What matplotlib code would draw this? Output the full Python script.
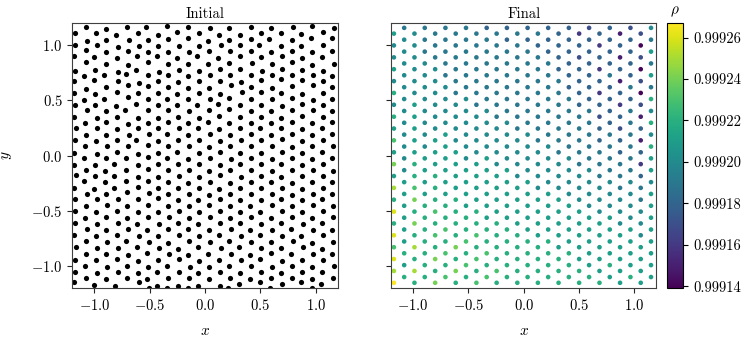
import numpy as np
import matplotlib.pyplot as plt
from matplotlib.ticker import FormatStrFormatter

plt.rcParams['font.family'] = 'serif'
plt.rcParams['font.serif'] = ['cmr10']
plt.rcParams['mathtext.fontset'] = 'cm'
plt.rcParams['axes.formatter.use_mathtext'] = True
plt.rcParams['font.size'] = 10.5

# initial particle positions
init_xy = [
    # top-left block
    (-1.078, 1.169), (-0.895, 1.145), (-0.705, 1.163), (-0.536, 1.163),
    (-1.172, 1.114), (-0.982, 1.114), (-0.804, 1.096), (-0.602, 1.111), (-0.422, 1.093),
    (-1.066, 1.036), (-0.892, 1.048), (-0.687, 1.048), (-0.512, 1.051),
    (-1.172, 1.000), (-0.976, 1.006), (-0.789, 0.982), (-0.596, 0.997), (-0.422, 0.997),
    (-1.075, 0.958), (-0.895, 0.943), (-0.699, 0.949), (-0.512, 0.937),
    (-1.181, 0.901), (-1.000, 0.892), (-0.795, 0.883), (-0.614, 0.898), (-0.434, 0.901),
    (-1.078, 0.846), (-0.892, 0.831), (-0.696, 0.825), (-0.518, 0.846),
    (-1.172, 0.771), (-0.994, 0.777), (-0.789, 0.762), (-0.623, 0.777), (-0.419, 0.762),
    (-1.096, 0.720), (-0.910, 0.726), (-0.711, 0.738), (-0.512, 0.732),
    (-1.181, 0.672), (-1.000, 0.681), (-0.789, 0.678), (-0.599, 0.660), (-0.422, 0.675),
    (-1.075, 0.608), (-0.892, 0.620), (-0.696, 0.636), (-0.518, 0.630),
    (-1.181, 0.569), (-0.991, 0.560), (-0.795, 0.575), (-0.608, 0.569), (-0.422, 0.569),
    (-1.090, 0.503), (-0.910, 0.509), (-0.699, 0.527), (-0.512, 0.515),
    (-1.175, 0.455), (-0.994, 0.461), (-0.804, 0.446), (-0.620, 0.464), (-0.422, 0.461),
    (-1.069, 0.410), (-0.895, 0.401), (-0.723, 0.410), (-0.518, 0.410),
    # top-middle block
    (-0.340, 1.172), (-0.157, 1.166), (0.048, 1.157), (0.217, 1.160),
    (-0.250, 1.117), (-0.051, 1.108), (0.130, 1.093), (0.316, 1.093),
    (-0.331, 1.057), (-0.151, 1.063), (0.030, 1.042), (0.214, 1.051),
    (-0.235, 0.994), (-0.054, 0.991), (0.142, 1.006), (0.316, 1.003),
    (-0.331, 0.943), (-0.148, 0.943), (0.039, 0.949), (0.226, 0.952),
    (-0.250, 0.883), (-0.069, 0.898), (0.120, 0.886), (0.316, 0.901),
    (-0.331, 0.831), (-0.151, 0.831), (0.024, 0.834), (0.220, 0.840),
    (-0.235, 0.777), (-0.051, 0.771), (0.136, 0.786), (0.316, 0.786),
    (-0.331, 0.726), (-0.151, 0.720), (0.045, 0.735), (0.226, 0.726),
    (-0.241, 0.666), (-0.054, 0.675), (0.136, 0.675), (0.322, 0.666),
    (-0.337, 0.620), (-0.151, 0.611), (0.036, 0.614), (0.232, 0.636),
    (-0.256, 0.560), (-0.054, 0.569), (0.136, 0.560), (0.331, 0.575),
    (-0.346, 0.515), (-0.151, 0.509), (0.045, 0.515), (0.220, 0.521),
    (-0.256, 0.461), (-0.069, 0.455), (0.120, 0.464), (0.316, 0.461),
    (-0.337, 0.410), (-0.142, 0.401), (0.039, 0.410), (0.220, 0.419),
    # top-right block
    (0.413, 1.163), (0.593, 1.157), (0.795, 1.166), (0.970, 1.172), (1.166, 1.160),
    (0.503, 1.108), (0.690, 1.114), (0.870, 1.105), (1.066, 1.117),
    (0.413, 1.057), (0.578, 1.057), (0.783, 1.051), (0.955, 1.063), (1.151, 1.066),
    (0.488, 1.003), (0.687, 0.991), (0.864, 0.997), (1.066, 1.006),
    (0.413, 0.946), (0.599, 0.943), (0.783, 0.952), (0.970, 0.943), (1.151, 0.952),
    (0.503, 0.892), (0.693, 0.898), (0.880, 0.883), (1.060, 0.892),
    (0.422, 0.837), (0.602, 0.831), (0.789, 0.846), (0.970, 0.825), (1.166, 0.831),
    (0.512, 0.771), (0.699, 0.786), (0.880, 0.780), (1.066, 0.765),
    (0.413, 0.732), (0.608, 0.726), (0.789, 0.735), (0.976, 0.735), (1.151, 0.720),
    (0.503, 0.681), (0.684, 0.690), (0.873, 0.681), (1.066, 0.675),
    (0.413, 0.620), (0.602, 0.611), (0.783, 0.630), (0.976, 0.636), (1.151, 0.620),
    (0.509, 0.575), (0.690, 0.566), (0.880, 0.560), (1.066, 0.569),
    (0.413, 0.509), (0.602, 0.515), (0.783, 0.524), (0.976, 0.503), (1.151, 0.509),
    (0.503, 0.455), (0.699, 0.449), (0.880, 0.464), (1.066, 0.455),
    (0.413, 0.404), (0.593, 0.401), (0.789, 0.410), (0.976, 0.413), (1.151, 0.407),
    # middle-left block
    (-1.181, 0.352), (-0.976, 0.343), (-0.795, 0.352), (-0.608, 0.337), (-0.422, 0.343),
    (-1.084, 0.298), (-0.895, 0.304), (-0.699, 0.283), (-0.518, 0.298),
    (-1.166, 0.247), (-0.976, 0.253), (-0.795, 0.238), (-0.608, 0.247), (-0.422, 0.253),
    (-1.072, 0.187), (-0.895, 0.187), (-0.687, 0.184), (-0.503, 0.199),
    (-1.175, 0.139), (-0.985, 0.133), (-0.795, 0.139), (-0.623, 0.142), (-0.422, 0.133),
    (-1.081, 0.087), (-0.886, 0.087), (-0.693, 0.087), (-0.512, 0.093),
    (-1.181, 0.027), (-0.976, 0.018), (-0.795, 0.036), (-0.608, 0.018), (-0.422, 0.021),
    (-1.090, -0.024), (-0.895, -0.018), (-0.714, -0.018), (-0.512, -0.012),
    (-1.181, -0.084), (-0.991, -0.084), (-0.819, -0.072), (-0.608, -0.084), (-0.422, -0.078),
    (-1.075, -0.130), (-0.904, -0.139), (-0.714, -0.130), (-0.518, -0.123),
    (-1.166, -0.175), (-0.994, -0.184), (-0.819, -0.184), (-0.608, -0.193), (-0.422, -0.190),
    (-1.090, -0.229), (-0.904, -0.235), (-0.714, -0.229), (-0.518, -0.229),
    (-1.181, -0.289), (-1.000, -0.298), (-0.819, -0.289), (-0.608, -0.283), (-0.422, -0.289),
    (-1.066, -0.343), (-0.895, -0.343), (-0.708, -0.328), (-0.503, -0.334),
    (-1.175, -0.395), (-0.976, -0.395), (-0.789, -0.395), (-0.608, -0.395), (-0.422, -0.386),
    # centre block
    (-0.241, 0.352), (-0.054, 0.343), (0.130, 0.355), (0.316, 0.349),
    (-0.331, 0.301), (-0.151, 0.295), (0.030, 0.307), (0.220, 0.298),
    (-0.235, 0.247), (-0.060, 0.253), (0.130, 0.238), (0.316, 0.247),
    (-0.340, 0.193), (-0.151, 0.187), (0.045, 0.199), (0.226, 0.187),
    (-0.241, 0.139), (-0.051, 0.145), (0.136, 0.133), (0.322, 0.139),
    (-0.331, 0.084), (-0.142, 0.090), (0.039, 0.078), (0.226, 0.087),
    (-0.250, 0.030), (-0.054, 0.027), (0.136, 0.036), (0.316, 0.024),
    (-0.340, -0.018), (-0.151, -0.027), (0.045, -0.018), (0.232, -0.033),
    (-0.241, -0.078), (-0.051, -0.072), (0.136, -0.084), (0.316, -0.078),
    (-0.331, -0.133), (-0.142, -0.130), (0.039, -0.139), (0.226, -0.127),
    (-0.235, -0.184), (-0.054, -0.190), (0.136, -0.178), (0.322, -0.193),
    (-0.331, -0.238), (-0.151, -0.244), (0.045, -0.235), (0.226, -0.244),
    (-0.241, -0.295), (-0.054, -0.289), (0.130, -0.301), (0.316, -0.295),
    (-0.331, -0.349), (-0.142, -0.343), (0.039, -0.355), (0.226, -0.346),
    (-0.241, -0.398), (-0.060, -0.401), (0.136, -0.392), (0.316, -0.398),
    # middle-right block
    (0.503, 0.352), (0.690, 0.343), (0.880, 0.355), (1.066, 0.349),
    (0.413, 0.298), (0.593, 0.292), (0.789, 0.304), (0.970, 0.295), (1.151, 0.301),
    (0.497, 0.247), (0.690, 0.253), (0.873, 0.238), (1.060, 0.247),
    (0.413, 0.193), (0.593, 0.187), (0.783, 0.199), (0.970, 0.184), (1.151, 0.193),
    (0.503, 0.139), (0.693, 0.148), (0.880, 0.133), (1.066, 0.139),
    (0.413, 0.084), (0.602, 0.090), (0.783, 0.078), (0.970, 0.087), (1.157, 0.084),
    (0.509, 0.027), (0.693, 0.036), (0.880, 0.024), (1.060, 0.030),
    (0.413, -0.024), (0.602, -0.033), (0.789, -0.018), (0.970, -0.027), (1.151, -0.024),
    (0.503, -0.078), (0.690, -0.072), (0.873, -0.087), (1.066, -0.078),
    (0.413, -0.133), (0.602, -0.139), (0.783, -0.127), (0.976, -0.133), (1.157, -0.139),
    (0.509, -0.184), (0.690, -0.193), (0.880, -0.181), (1.066, -0.187),
    (0.413, -0.241), (0.593, -0.235), (0.789, -0.247), (0.970, -0.238), (1.151, -0.241),
    (0.503, -0.295), (0.693, -0.289), (0.873, -0.301), (1.066, -0.292),
    (0.413, -0.349), (0.602, -0.343), (0.783, -0.355), (0.976, -0.346), (1.151, -0.349),
    (0.503, -0.398), (0.690, -0.395), (0.880, -0.401), (1.060, -0.395),
    # lower band
    (-1.075, -0.452), (-0.889, -0.446), (-0.702, -0.455), (-0.518, -0.449), (-0.334, -0.452),
    (-0.148, -0.458), (0.036, -0.446), (0.229, -0.452), (0.410, -0.455), (0.602, -0.449),
    (0.786, -0.458), (0.973, -0.446), (1.154, -0.452),
    (-1.178, -0.503), (-0.982, -0.509), (-0.792, -0.500), (-0.605, -0.512), (-0.425, -0.506),
    (-0.238, -0.500), (-0.057, -0.509), (0.133, -0.503), (0.319, -0.512), (0.500, -0.506),
    (0.693, -0.500), (0.877, -0.509), (1.063, -0.503),
    (-1.081, -0.561), (-0.898, -0.555), (-0.708, -0.567), (-0.512, -0.558), (-0.328, -0.552),
    (-0.145, -0.564), (0.042, -0.558), (0.223, -0.567), (0.416, -0.555), (0.596, -0.561),
    (0.789, -0.552), (0.967, -0.564), (1.157, -0.558),
    (-1.172, -0.612), (-0.979, -0.618), (-0.786, -0.609), (-0.611, -0.621), (-0.419, -0.615),
    (-0.244, -0.609), (-0.063, -0.618), (0.139, -0.612), (0.313, -0.606), (0.506, -0.618),
    (0.687, -0.612), (0.883, -0.621), (1.057, -0.609),
    (-1.069, -0.667), (-0.892, -0.673), (-0.699, -0.664), (-0.521, -0.676), (-0.337, -0.667),
    (-0.154, -0.661), (0.033, -0.673), (0.232, -0.664), (0.407, -0.670), (0.605, -0.676),
    (0.780, -0.664), (0.976, -0.670), (1.148, -0.673),
    (-1.181, -0.721), (-0.985, -0.727), (-0.795, -0.718), (-0.599, -0.730), (-0.428, -0.724),
    (-0.235, -0.718), (-0.054, -0.730), (0.130, -0.721), (0.322, -0.727), (0.497, -0.718),
    (0.696, -0.730), (0.871, -0.724), (1.066, -0.721),
    (-1.078, -0.776), (-0.886, -0.785), (-0.711, -0.773), (-0.509, -0.782), (-0.331, -0.788),
    (-0.142, -0.776), (0.045, -0.782), (0.220, -0.773), (0.419, -0.785), (0.593, -0.779),
    (0.792, -0.776), (0.964, -0.788), (1.160, -0.779),
    (-1.169, -0.830), (-0.976, -0.839), (-0.789, -0.833), (-0.614, -0.827), (-0.416, -0.836),
    (-0.247, -0.842), (-0.060, -0.830), (0.142, -0.836), (0.310, -0.827), (0.509, -0.839),
    (0.684, -0.833), (0.886, -0.830), (1.054, -0.842),
    (-1.072, -0.885), (-0.895, -0.891), (-0.696, -0.894), (-0.524, -0.882), (-0.325, -0.888),
    (-0.151, -0.897), (0.030, -0.885), (0.235, -0.891), (0.404, -0.894), (0.599, -0.882),
    (0.777, -0.891), (0.979, -0.888), (1.151, -0.885),
    (-1.178, -0.942), (-0.988, -0.948), (-0.798, -0.939), (-0.602, -0.951), (-0.422, -0.945),
    (-0.232, -0.939), (-0.051, -0.951), (0.127, -0.942), (0.325, -0.948), (0.494, -0.939),
    (0.699, -0.951), (0.874, -0.945), (1.069, -0.942),
    (-1.084, -0.997), (-0.883, -1.003), (-0.705, -0.994), (-0.515, -1.006), (-0.340, -0.997),
    (-0.139, -1.003), (0.039, -1.009), (0.217, -0.994), (0.413, -1.000), (0.608, -1.006),
    (0.786, -0.994), (0.970, -1.003), (1.163, -0.997),
    (-1.172, -1.051), (-0.979, -1.057), (-0.783, -1.048), (-0.608, -1.060), (-0.431, -1.054),
    (-0.238, -1.048), (-0.066, -1.060), (0.136, -1.051), (0.316, -1.057), (0.503, -1.048),
    (0.690, -1.060), (0.880, -1.054), (1.060, -1.051),
    (-1.075, -1.106), (-0.898, -1.112), (-0.702, -1.103), (-0.521, -1.115), (-0.331, -1.109),
    (-0.148, -1.103), (0.036, -1.115), (0.226, -1.106), (0.410, -1.112), (0.596, -1.103),
    (0.789, -1.109), (0.967, -1.115), (1.154, -1.106),
    (-1.188, -1.146), (-1.000, -1.167), (-0.810, -1.176), (-0.600, -1.146), (-0.430, -1.176),
    (-0.240, -1.176), (-0.060, -1.176), (0.140, -1.176), (0.310, -1.158), (0.500, -1.146),
    (0.700, -1.158), (0.870, -1.146), (1.050, -1.158),
    (-0.510, -1.195), (-0.340, -1.195), (-0.150, -1.195), (0.210, -1.195), (0.590, -1.195),
    (0.970, -1.195),
]

# final lattice: column positions and the row heights of odd / even columns
col_x = [-1.174, -1.081, -0.988, -0.895, -0.801, -0.708, -0.615, -0.522, -0.428,
         -0.335, -0.245, -0.152, -0.058, 0.035, 0.128, 0.221, 0.315, 0.408,
         0.501, 0.591, 0.685, 0.778, 0.871, 0.965, 1.058, 1.151]
y_odd = [1.157, 1.050, 0.942, 0.835, 0.728, 0.620, 0.513, 0.405, 0.298, 0.191, 0.083,
         -0.024, -0.131, -0.239, -0.346, -0.453, -0.561, -0.668, -0.776, -0.883, -0.990, -1.098]
y_even = [1.105, 0.998, 0.890, 0.783, 0.675, 0.568, 0.461, 0.353, 0.246, 0.139, 0.031,
          -0.076, -0.184, -0.291, -0.398, -0.506, -0.613, -0.720, -0.828, -0.935, -1.043, -1.150]

# density per lattice row, top to bottom, in units of 1e-5 above 0.999
rho_rows = [
    [19, 19, 19, 19, 18, 18, 18, 18, 18, 17, 18, 17, 20],
    [21, 20, 19, 19, 19, 19, 19, 19, 18, 16, 18, 15, 17],
    [20, 19, 19, 19, 19, 18, 18, 18, 18, 18, 18, 18, 19],
    [20, 20, 19, 19, 19, 19, 19, 18, 18, 18, 16, 18, 14],
    [20, 19, 19, 19, 19, 19, 19, 18, 18, 18, 18, 18, 21],
    [20, 20, 19, 19, 19, 19, 19, 19, 18, 17, 18, 15, 17],
    [20, 20, 19, 19, 19, 19, 19, 19, 18, 18, 18, 18, 19],
    [21, 20, 20, 19, 19, 19, 19, 19, 18, 18, 16, 18, 14],
    [20, 20, 19, 19, 19, 19, 19, 19, 18, 18, 19, 18, 21],
    [20, 20, 20, 19, 19, 19, 19, 19, 19, 18, 18, 15, 17],
    [20, 20, 20, 19, 19, 19, 19, 19, 18, 18, 18, 19, 19],
    [22, 20, 20, 19, 19, 19, 19, 19, 19, 18, 16, 18, 14],
    [20, 20, 20, 20, 19, 19, 19, 19, 19, 18, 18, 18, 22],
    [20, 21, 20, 20, 19, 19, 19, 19, 19, 18, 18, 16, 17],
    [20, 20, 20, 20, 20, 19, 19, 19, 19, 19, 18, 19, 20],
    [22, 21, 20, 20, 20, 19, 19, 19, 19, 19, 17, 18, 15],
    [20, 20, 20, 20, 20, 20, 19, 19, 19, 19, 18, 19, 22],
    [21, 21, 20, 20, 20, 20, 19, 19, 19, 19, 18, 17, 18],
    [20, 20, 21, 20, 20, 20, 20, 19, 19, 19, 19, 19, 20],
    [23, 21, 21, 20, 20, 20, 20, 19, 19, 19, 18, 18, 15],
    [20, 20, 21, 20, 20, 20, 20, 20, 19, 19, 19, 19, 22],
    [21, 21, 21, 21, 20, 20, 20, 20, 19, 19, 19, 18, 18],
    [20, 21, 21, 20, 21, 20, 20, 20, 20, 19, 19, 19, 21],
    [24, 22, 21, 21, 21, 20, 20, 20, 20, 19, 19, 19, 16],
    [20, 21, 21, 21, 21, 21, 20, 20, 20, 20, 19, 19, 21],
    [21, 22, 22, 21, 21, 21, 20, 20, 20, 20, 19, 19, 18],
    [21, 21, 21, 21, 21, 21, 21, 20, 20, 20, 20, 20, 20],
    [25, 23, 22, 21, 21, 21, 21, 20, 20, 20, 20, 19, 19],
    [21, 21, 21, 21, 21, 21, 21, 21, 20, 20, 20, 20, 21],
    [22, 24, 22, 22, 21, 21, 21, 21, 21, 20, 20, 20, 19],
    [21, 22, 22, 21, 21, 21, 21, 21, 21, 20, 20, 20, 21],
    [26, 22, 23, 22, 22, 21, 21, 21, 21, 21, 20, 20, 20],
    [21, 22, 22, 22, 21, 21, 21, 21, 21, 21, 21, 20, 21],
    [22, 24, 22, 22, 22, 22, 21, 21, 21, 21, 21, 20, 20],
    [21, 22, 23, 22, 22, 22, 21, 21, 21, 21, 21, 21, 21],
    [26, 22, 23, 22, 23, 22, 22, 21, 21, 21, 21, 21, 20],
    [21, 22, 22, 23, 22, 22, 22, 22, 21, 21, 21, 21, 21],
    [23, 25, 22, 24, 22, 22, 22, 22, 21, 21, 21, 21, 21],
    [22, 22, 23, 22, 23, 22, 22, 22, 22, 21, 21, 21, 21],
    [26, 22, 24, 22, 23, 22, 22, 22, 22, 21, 21, 21, 21],
    [21, 22, 22, 23, 22, 22, 22, 22, 22, 21, 22, 21, 21],
    [25, 25, 22, 24, 22, 23, 22, 22, 22, 22, 21, 21, 21],
    [22, 22, 23, 22, 23, 22, 22, 22, 22, 22, 21, 22, 21],
    [27, 22, 24, 22, 23, 22, 22, 22, 22, 22, 22, 21, 21],
]

rho_min = 0.999139
rho_max = 0.999267
cbar_ticks = [0.99914, 0.99916, 0.99918, 0.99920, 0.99922, 0.99924, 0.99926]


def final_points():
    fx, fy, frho = [], [], []
    for r, row in enumerate(rho_rows):
        if r % 2 == 0:
            cols, yy = range(1, 26, 2), y_odd[r // 2]
        else:
            cols, yy = range(0, 25, 2), y_even[r // 2]
        for c, v in zip(cols, row):
            fx.append(col_x[c])
            fy.append(yy)
            frho.append(0.999 + v * 1e-5)
    return np.array(fx), np.array(fy), np.array(frho)


def style(ax):
    ax.set_xlim(-1.2, 1.2)
    ax.set_ylim(-1.2, 1.2)
    ax.set_xticks([-1.0, -0.5, 0.0, 0.5, 1.0])
    ax.set_yticks([-1.0, -0.5, 0.0, 0.5, 1.0])
    for s in ax.spines.values():
        s.set_color('0.25')
        s.set_linewidth(0.8)
    ax.tick_params(direction='out', length=3.5, width=0.8, color='0.15')


def main():
    fig = plt.figure(figsize=(7.54, 3.40), dpi=100)
    ax1 = fig.add_axes([0.0959, 0.152, 0.352, 0.780])
    ax2 = fig.add_axes([0.5186, 0.152, 0.352, 0.780])
    cax = fig.add_axes([0.885, 0.152, 0.0212, 0.780])

    ix = np.array([p[0] for p in init_xy])
    iy = np.array([p[1] for p in init_xy])
    ax1.scatter(ix, iy, s=14, c='black', linewidths=0)
    style(ax1)
    ax1.set_title('Initial', fontsize=10.5, pad=4)
    ax1.set_xlabel('$x$', fontsize=11, labelpad=8)
    ax1.set_ylabel('$y$', fontsize=11, labelpad=12)

    fx, fy, frho = final_points()
    sc = ax2.scatter(fx, fy, s=11, c=frho, cmap='viridis',
                     vmin=rho_min, vmax=rho_max, linewidths=0)
    style(ax2)
    ax2.set_yticklabels([])
    ax2.set_title('Final', fontsize=10.5, pad=4)
    ax2.set_xlabel('$x$', fontsize=11, labelpad=8)

    cb = fig.colorbar(sc, cax=cax)
    cb.set_ticks(cbar_ticks)
    cb.ax.yaxis.set_major_formatter(FormatStrFormatter('%.5f'))
    cb.ax.tick_params(length=3.5, width=0.8)
    cb.outline.set_linewidth(0.8)
    cb.ax.set_title(r'$\rho$', fontsize=11, pad=6)

    fig.savefig('out.png', dpi=100)


if __name__ == "__main__":
    main()
